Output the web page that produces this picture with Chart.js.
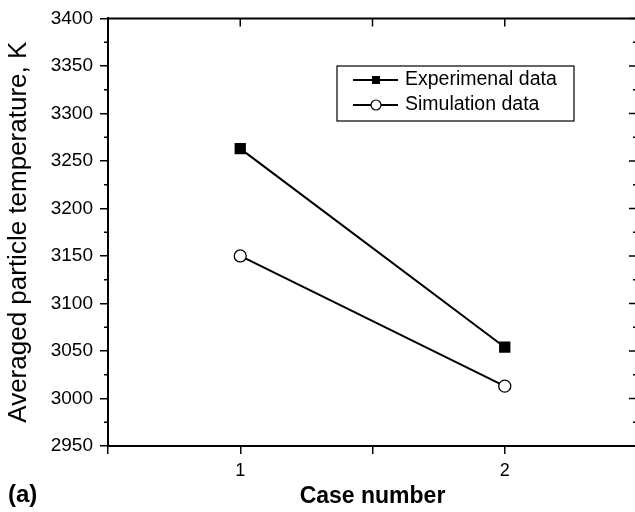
<!DOCTYPE html>
<html>
<head>
<meta charset="utf-8">
<script src="https://cdn.jsdelivr.net/npm/chart.js@4.4.1/dist/chart.umd.min.js"></script>
<style>
html, body { margin: 0; padding: 0; overflow: hidden; background: #fff; }
#wrap { width: 645px; height: 512px; }
</style>
</head>
<body>
<div id="wrap"><canvas id="tempChart" width="645" height="512"></canvas></div>
<script>
// values
const caseNumbers = [1, 2];
const experimentalData = [3263, 3054];
const simulationData = [3150, 3013];
const seriesLabels = ['Experimenal data', 'Simulation data'];
const yTicks = [2950, 3000, 3050, 3100, 3150, 3200, 3250, 3300, 3350, 3400];
const xTickLabels = [1, 2];

const FONT = '"Liberation Sans", Arial, sans-serif';
Chart.defaults.font.family = FONT;
Chart.defaults.color = '#000';

function toPoints(values) {
    return caseNumbers.map((c, i) => ({ x: c, y: values[i] }));
}

// frame, minor ticks, legend box and panel label
const framePlugin = {
    id: 'frame',
    afterDraw(chart) {
        const ctx = chart.ctx;
        const area = chart.chartArea;
        const xs = chart.scales.x;
        const ys = chart.scales.y;
        ctx.save();
        ctx.strokeStyle = '#000';

        // top and right border
        ctx.lineWidth = 2;
        ctx.beginPath();
        ctx.moveTo(area.left, area.top);
        ctx.lineTo(area.right, area.top);
        ctx.lineTo(area.right, area.bottom);
        ctx.stroke();

        ctx.lineWidth = 1.5;
        ctx.beginPath();
        // left minor ticks (outward), right ticks (inward)
        for (let v = yTicks[0]; v <= yTicks[yTicks.length - 1]; v += 25) {
            const py = ys.getPixelForValue(v);
            const major = yTicks.includes(v);
            if (!major) {
                ctx.moveTo(area.left - 4, py);
                ctx.lineTo(area.left, py);
            }
            const len = major ? 8 : 4;
            ctx.moveTo(area.right - len, py);
            ctx.lineTo(area.right, py);
        }
        // top ticks (inward)
        [1, 1.5, 2].forEach(v => {
            const px = xs.getPixelForValue(v);
            ctx.moveTo(px, area.top);
            ctx.lineTo(px, area.top + 8);
        });
        ctx.stroke();

        // legend
        const bx = 337, by = 66, bw = 237, bh = 55;
        ctx.lineWidth = 1.2;
        ctx.strokeRect(bx, by, bw, bh);
        chart.data.datasets.forEach((ds, i) => {
            const ry = 80 + i * 25;
            ctx.lineWidth = 2;
            ctx.beginPath();
            ctx.moveTo(353, ry);
            ctx.lineTo(398, ry);
            ctx.stroke();
            if (ds.pointStyle === 'rect') {
                ctx.fillStyle = '#000';
                ctx.fillRect(372, ry - 4, 8, 8);
            } else {
                ctx.fillStyle = '#fff';
                ctx.lineWidth = 1.2;
                ctx.beginPath();
                ctx.arc(376, ry, 5, 0, Math.PI * 2);
                ctx.fill();
                ctx.stroke();
            }
            ctx.fillStyle = '#000';
            ctx.font = '19.5px ' + FONT;
            ctx.textBaseline = 'middle';
            ctx.textAlign = 'left';
            ctx.fillText(ds.label, 405, ry);
        });

        // panel label
        ctx.font = 'bold 24px ' + FONT;
        ctx.textBaseline = 'middle';
        ctx.fillText('(a)', 8, 495);
        ctx.restore();
    }
};

const ctx = document.getElementById('tempChart');
new Chart(ctx.getContext('2d'), {
    type: 'scatter',
    data: {
        datasets: [{
            label: seriesLabels[0],
            data: toPoints(experimentalData),
            showLine: true,
            borderColor: '#000',
            borderWidth: 2,
            pointStyle: 'rect',
            pointRadius: 8,
            pointBackgroundColor: '#000',
            pointBorderColor: '#000',
            pointBorderWidth: 0
        }, {
            label: seriesLabels[1],
            data: toPoints(simulationData),
            showLine: true,
            borderColor: '#000',
            borderWidth: 2,
            pointStyle: 'circle',
            pointRadius: 6,
            pointBackgroundColor: '#fff',
            pointBorderColor: '#000',
            pointBorderWidth: 1.3
        }]
    },
    options: {
        responsive: false,
        animation: false,
        layout: { padding: { top: 17, right: 0, left: 0, bottom: 0 } },
        plugins: {
            legend: { display: false },
            tooltip: { enabled: false }
        },
        scales: {
            x: {
                type: 'linear',
                min: 0.5,
                max: 2.5,
                ticks: {
                    stepSize: 0.5,
                    autoSkip: false,
                    maxRotation: 0,
                    padding: 6,
                    font: { size: 18 },
                    callback: v => xTickLabels.includes(v) ? String(v) : ''
                },
                grid: { drawOnChartArea: false, tickLength: 8, color: '#000', lineWidth: 1.5 },
                border: { color: '#000', width: 2 },
                title: {
                    display: true,
                    text: 'Case number',
                    font: { size: 23, weight: 'bold' },
                    padding: { top: 0, bottom: 2 }
                },
                afterFit: s => { s.height = 66; }
            },
            y: {
                type: 'linear',
                min: yTicks[0],
                max: yTicks[yTicks.length - 1],
                ticks: {
                    stepSize: 50,
                    autoSkip: false,
                    padding: 7,
                    font: { size: 19 },
                    callback: v => String(v)
                },
                grid: { drawOnChartArea: false, tickLength: 8, color: '#000', lineWidth: 1.5 },
                border: { color: '#000', width: 2 },
                title: {
                    display: true,
                    text: 'Averaged particle temperature, K',
                    font: { size: 26 },
                    padding: { top: 3, bottom: 0 }
                },
                afterFit: s => { s.width = 108; }
            }
        }
    },
    plugins: [framePlugin]
});
</script>
</body>
</html>
